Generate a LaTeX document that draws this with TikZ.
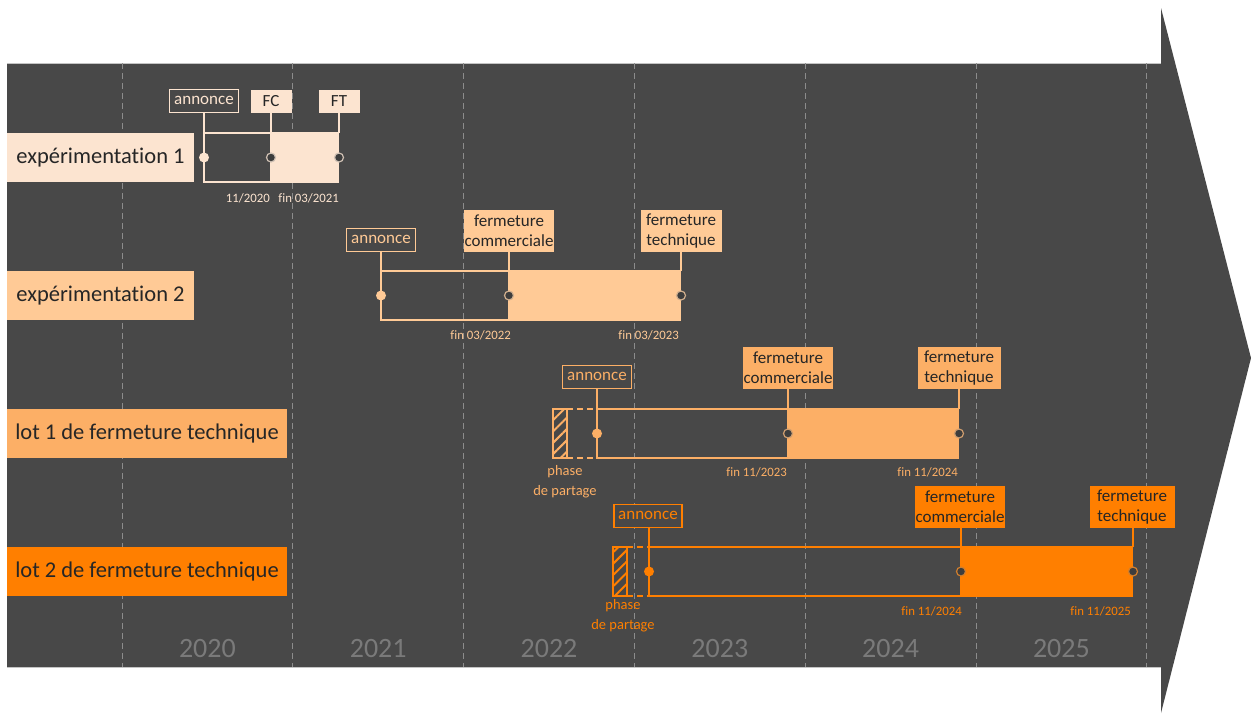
\documentclass[tikz,border=0pt]{standalone}
\usepackage{fontspec}
\setmainfont{Carlito}[Ligatures=NoCommon]
\usetikzlibrary{patterns.meta}
\definecolor{bg}{HTML}{484848}
\definecolor{cA}{HTML}{FCE4D0}
\definecolor{cB}{HTML}{FFCA96}
\definecolor{cC}{HTML}{FCAF66}
\definecolor{cD}{HTML}{FF7F00}
\definecolor{txt}{HTML}{262626}
\definecolor{gridc}{HTML}{8C8C8C}
\definecolor{yr}{HTML}{7A7A7A}
\definecolor{rim}{HTML}{C4C4C4}
\tikzset{
  rowlabel/.style={fill=#1, text=txt, font=\fontsize{22.5}{26}\selectfont, inner sep=0pt, minimum height=49pt},
  callfill/.style={fill=#1, text=txt, font=\fontsize{17}{20.5}\selectfont, align=center, inner sep=1pt, minimum height=23pt, anchor=south},
  callopen/.style={draw=#1, line width=1.3pt, fill=bg, text=#1, font=\fontsize{17}{20.5}\selectfont, inner sep=1pt, minimum height=23pt, anchor=south},
  datelbl/.style={text=#1, font=\fontsize{12.8}{14}\selectfont, anchor=north east, inner sep=0pt},
  yearlbl/.style={text=yr, font=\fontsize{28}{32}\selectfont},
  phaselbl/.style={text=#1, font=\fontsize{14.5}{20}\selectfont, align=center, inner sep=0pt},
  gridline/.style={draw=gridc, dash pattern=on 6pt off 4pt, line width=0.8pt},
  conn/.style={draw=#1, line width=1.3pt},
  dashconn/.style={draw=#1, line width=1.3pt, dash pattern=on 6pt off 4pt},
  hatchbox/.style={draw=#1, line width=1.3pt, pattern={Lines[angle=45,distance=8pt,line width=2pt]}, pattern color=#1},
  mdot/.style={circle, fill=#1, inner sep=0pt, minimum size=10pt},
  edot/.style={circle, draw=#1!65!gray, fill=bg!85!black, line width=1.2pt, inner sep=0pt, minimum size=9pt}
}
\begin{document}
\begin{tikzpicture}[x=1pt,y=-1pt]
\useasboundingbox (0,0) rectangle (1251,713);
\fill[white] (0,0) rectangle (1251,713);
% big arrow
\fill[bg] (7,63) -- (1161,63) -- (1161,8) -- (1251,358) -- (1161,713) -- (1161,667) -- (7,667) -- cycle;
\draw[rim, line width=0.8pt] (7,63) -- (1161,63);
\draw[rim, line width=0.8pt] (7,667) -- (1161,667);
% grid
\foreach \gx in {122,292.8,463.6,634.4,805.2,976,1146.8}
  \draw[gridline] (\gx,63) -- (\gx,667);
% years
\foreach \yy [count=\i from 0] in {2020,2021,2022,2023,2024,2025}
  \node[yearlbl] (y\yy) at ({122+170.8*(\i+0.5)},649) {\yy};

% ---------------- row 1
\node[rowlabel=cA, minimum width=187pt] (L1) at (100.5,157.5) {expérimentation 1};
\draw[conn=cA] (204,133) rectangle (271,182);
\fill[cA] (271,132.4) rectangle (339,182.6);
\coordinate (a1t) at (204,133);
\coordinate (f1t) at (271,133);
\coordinate (t1t) at (339,133);
\node[callopen=cA, minimum width=69pt] (A1) at (204,113) {annonce};
\node[callfill=cA, minimum width=41pt] (FC1) at (271,113) {FC};
\node[callfill=cA, minimum width=41pt] (FT1) at (339,113) {FT};
\draw[conn=cA] (A1.south) -- (a1t);
\draw[conn=cA] (FC1.south) -- (f1t);
\draw[conn=cA] (FT1.south) -- (t1t);
\node[mdot=cA] (ma1) at (204,157.5) {};
\node[edot=cA] (mf1) at (271,157.5) {};
\node[edot=cA] (mt1) at (339,157.5) {};
\node[datelbl=cA] (d1a) at (270,193) {11/2020};
\node[datelbl=cA] (d1b) at (339,193) {fin 03/2021};

% ---------------- row 2
\node[rowlabel=cB, minimum width=187pt] (L2) at (100.5,295.5) {expérimentation 2};
\draw[conn=cB] (381,271) rectangle (509,320);
\fill[cB] (509,270.4) rectangle (681,320.6);
\coordinate (a2t) at (381,271);
\coordinate (f2t) at (509,271);
\coordinate (t2t) at (681,271);
\node[callopen=cB, minimum width=69pt] (A2) at (381,252) {annonce};
\node[callfill=cB, minimum width=90pt, minimum height=42pt] (FC2) at (509,252) {fermeture\\commerciale};
\node[callfill=cB, minimum width=81pt, minimum height=42pt] (FT2) at (681,252) {fermeture\\technique};
\draw[conn=cB] (A2.south) -- (a2t);
\draw[conn=cB] (FC2.south) -- (f2t);
\draw[conn=cB] (FT2.south) -- (t2t);
\node[mdot=cB] (ma2) at (381,295.5) {};
\node[edot=cB] (mf2) at (509,295.5) {};
\node[edot=cB] (mt2) at (681,295.5) {};
\node[datelbl=cB] (d2a) at (511,330.5) {fin 03/2022};
\node[datelbl=cB] (d2b) at (679,330.5) {fin 03/2023};

% ---------------- row 3
\node[rowlabel=cC, minimum width=280pt] (L3) at (147,433.5) {lot 1 de fermeture technique};
\draw[hatchbox=cC] (553,409) rectangle (567,458);
\draw[dashconn=cC] (567,409) -- (597,409);
\draw[dashconn=cC] (567,458) -- (597,458);
\draw[conn=cC] (597,409) rectangle (788,458);
\fill[cC] (788,408.4) rectangle (959,458.6);
\coordinate (a3t) at (597,409);
\coordinate (f3t) at (788,409);
\coordinate (t3t) at (959,409);
\node[callopen=cC, minimum width=69pt] (A3) at (597,389) {annonce};
\node[callfill=cC, minimum width=90pt, minimum height=42pt] (FC3) at (788,389) {fermeture\\commerciale};
\node[callfill=cC, minimum width=83pt, minimum height=42pt] (FT3) at (959,389) {fermeture\\technique};
\draw[conn=cC] (A3.south) -- (a3t);
\draw[conn=cC] (FC3.south) -- (f3t);
\draw[conn=cC] (FT3.south) -- (t3t);
\node[mdot=cC] (ma3) at (597,433.5) {};
\node[edot=cC] (mf3) at (788,433.5) {};
\node[edot=cC] (mt3) at (959,433.5) {};
\node[datelbl=cC] (d3a) at (787,467.5) {fin 11/2023};
\node[datelbl=cC] (d3b) at (958,467.5) {fin 11/2024};
\node[phaselbl=cC] (P3) at (565,481.5) {phase\\de partage};

% ---------------- row 4
\node[rowlabel=cD, minimum width=280pt] (L4) at (147,571.5) {lot 2 de fermeture technique};
\draw[hatchbox=cD] (613,547) rectangle (627,596);
\draw[dashconn=cD] (627,547) -- (649,547);
\draw[dashconn=cD] (627,596) -- (649,596);
\draw[conn=cD] (649,547) rectangle (961,596);
\fill[cD] (961,546.4) rectangle (1133,596.6);
\coordinate (a4t) at (649,547);
\coordinate (f4t) at (961,547);
\coordinate (t4t) at (1133,547);
\node[callopen=cD, minimum width=68pt] (A4) at (648,528) {annonce};
\node[callfill=cD, minimum width=90pt, minimum height=42pt] (FC4) at (960,528) {fermeture\\commerciale};
\node[callfill=cD, minimum width=85pt, minimum height=42pt] (FT4) at (1132,528) {fermeture\\technique};
\draw[conn=cD] (A4.south -| a4t) -- (a4t);
\draw[conn=cD] (FC4.south -| f4t) -- (f4t);
\draw[conn=cD] (FT4.south -| t4t) -- (t4t);
\node[mdot=cD] (ma4) at (649,571.5) {};
\node[edot=cD] (mf4) at (961,571.5) {};
\node[edot=cD] (mt4) at (1133,571.5) {};
\node[datelbl=cD] (d4a) at (962,606) {fin 11/2024};
\node[datelbl=cD] (d4b) at (1131,606) {fin 11/2025};
\node[phaselbl=cD] (P4) at (623,615.5) {phase\\de partage};
\end{tikzpicture}
\end{document}
